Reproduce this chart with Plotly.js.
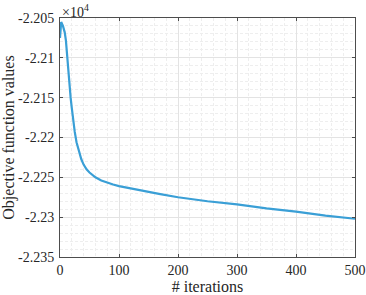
<!DOCTYPE html>
<html>
<head>
<meta charset="utf-8">
<script src="https://cdn.plot.ly/plotly-3.0.1.min.js"></script>
<style>html,body{margin:0;padding:0;background:#fff;}#chart{width:366px;height:295px;}</style>
</head>
<body>
<div id="chart"></div>
<script>
// iterations
const iterations = [0, 2, 5, 8, 10, 12, 14, 16, 18, 20, 22, 25, 28, 32, 36, 40, 45, 50, 60, 70, 80, 90, 100, 120, 140, 170, 200, 250, 300, 350, 400, 450, 500];
// objective values in units of 10^4
const objective = [-2.2075, -2.2055, -2.2060, -2.2068, -2.2078, -2.2098, -2.2115, -2.2133, -2.2150, -2.2163, -2.2176, -2.2193, -2.2206, -2.2218, -2.2227, -2.2234, -2.2240, -2.2244, -2.2250, -2.2254, -2.2257, -2.2259, -2.2261, -2.2264, -2.2267, -2.2271, -2.2275, -2.2280, -2.2284, -2.2289, -2.2293, -2.2298, -2.2302];
const xTicks = [0, 100, 200, 300, 400, 500];
const yTicks = [-2.235, -2.23, -2.225, -2.22, -2.215, -2.21, -2.205];
const yTickText = ['-2.235', '-2.23', '-2.225', '-2.22', '-2.215', '-2.21', '-2.205'];

const FAMILY = 'Liberation Serif, Times New Roman, serif';
const tickFont = {family: FAMILY, size: 14, color: '#262626'};
const titleFont = {family: FAMILY, size: 16, color: '#262626'};

const trace = {
  x: iterations, y: objective, type: 'scatter', mode: 'lines',
  line: {color: '#3a9fd6', width: 2.2, shape: 'linear'},
  hoverinfo: 'skip'
};

function axisCommon() {
  return {
    showline: true, linecolor: '#4d4d4d', linewidth: 1, mirror: 'ticks',
    ticks: 'inside', ticklen: 3, tickcolor: '#4d4d4d',
    showgrid: true, gridcolor: '#e3e3e3', gridwidth: 1,
    zeroline: false, tickfont: tickFont
  };
}

const layout = {
  width: 366, height: 295,
  margin: {l: 60, r: 11, t: 18, b: 38},
  paper_bgcolor: '#fff', plot_bgcolor: '#fff',
  showlegend: false,
  font: tickFont,
  xaxis: Object.assign(axisCommon(), {
    range: [0, 500], tickvals: xTicks, ticktext: xTicks.map(String),
    minor: {dtick: 20, showgrid: true, gridcolor: '#eeeeee', griddash: '3px,2px', gridwidth: 1, ticks: ''},
    title: {text: '# iterations', font: titleFont, standoff: 2}
  }),
  yaxis: Object.assign(axisCommon(), {
    range: [-2.235, -2.205], tickvals: yTicks, ticktext: yTickText,
    ticklabelstandoff: 2,
    minor: {dtick: 0.001, showgrid: true, gridcolor: '#eeeeee', griddash: '3px,2px', gridwidth: 1, ticks: ''},
    title: {text: 'Objective function values', font: titleFont, standoff: 2}
  }),
  annotations: [{
    xref: 'paper', yref: 'paper', x: 0, y: 1, xanchor: 'left', yanchor: 'bottom',
    text: '×10<sup>4</sup>', showarrow: false, font: tickFont, yshift: -4
  }]
};

Plotly.newPlot('chart', [trace], layout, {staticPlot: true, displayModeBar: false});
</script>
</body>
</html>
